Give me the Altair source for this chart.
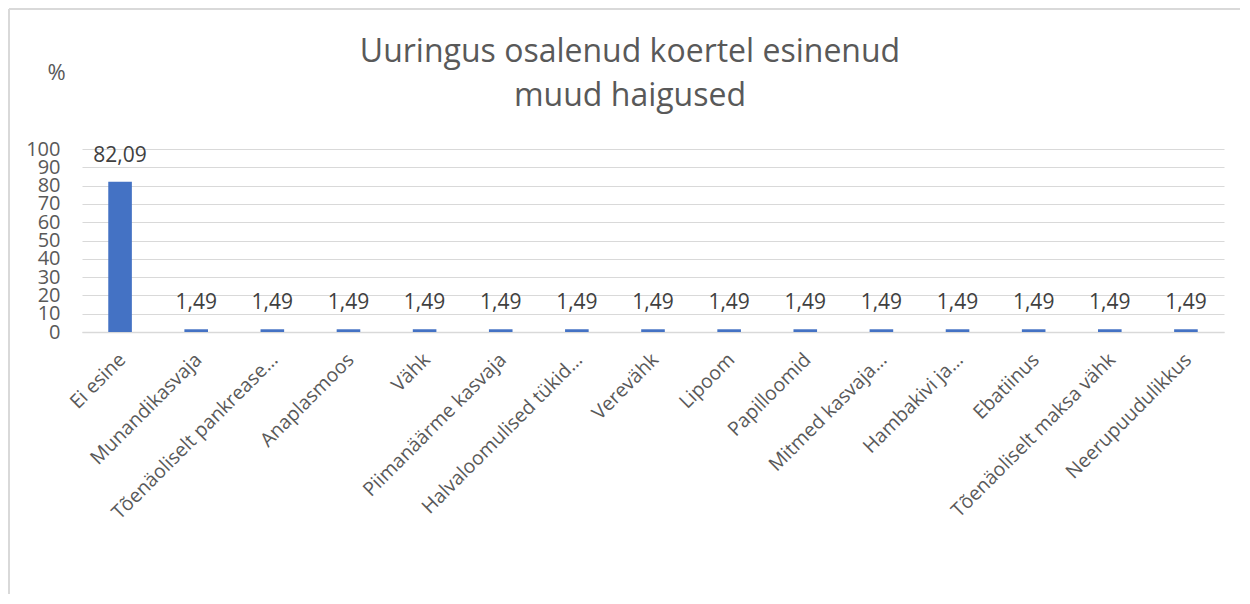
import altair as alt
import pandas as pd

categories = [
    "Ei esine", "Munandikasvaja", "Tõenäoliselt pankrease…", "Anaplasmoos",
    "Vähk", "Piimanäärme kasvaja", "Halvaloomulised tükid…", "Verevähk",
    "Lipoom", "Papilloomid", "Mitmed kasvaja…", "Hambakivi ja…",
    "Ebatiinus", "Tõenäoliselt maksa vähk", "Neerupuudulikkus",
]
values = [82.09, 1.49, 1.49, 1.49, 1.49, 1.49, 1.49, 1.49,
          1.49, 1.49, 1.49, 1.49, 1.49, 1.49, 1.49]
y_ticks = [0, 10, 20, 30, 40, 50, 60, 70, 80, 90, 100]
title_lines = ["Uuringus osalenud koertel esinenud", "muud haigused"]

df = pd.DataFrame({"category": categories, "value": values})

TEXT = "#595959"
GRID = "#d9d9d9"

x = alt.X(
    "category:N", sort=None,
    scale=alt.Scale(paddingInner=0.69, paddingOuter=0.345),
    axis=alt.Axis(title=None, labelAngle=-45, labelFontSize=19.5, labelColor=TEXT,
                  ticks=False, domainColor=GRID, domainWidth=1.5,
                  labelPadding=18, labelOffset=-4, labelLimit=0),
)
y = alt.Y(
    "value:Q",
    scale=alt.Scale(domain=[0, 100], nice=False),
    axis=alt.Axis(values=y_ticks, title="%", titleAngle=0, titleX=-26, titleY=-77,
                  titleAlign="center", titleBaseline="middle", titleFontSize=22,
                  titleFontWeight="normal", titleColor=TEXT,
                  labelFontSize=20, labelColor=TEXT, labelPadding=22,
                  domain=False, ticks=False, gridColor=GRID,
                  labelOverlap=False, labelFlush=False),
)

base = alt.Chart(df)
bars = base.mark_bar(color="#4472C4").encode(x=x, y=y)
labels = base.transform_calculate(
    label="replace(format(datum.value, '.2f'), '.', ',')"
).mark_text(baseline="bottom", dy=-16, fontSize=21, color="#404040").encode(
    x=x, y=y, text="label:N"
)

frame_data = alt.Data(values=[{}])
top_line = alt.Chart(frame_data).mark_rule(color=GRID, strokeWidth=2).encode(
    x=alt.value(-73), x2=alt.value(1200), y=alt.value(-140)
)
left_line = alt.Chart(frame_data).mark_rule(color=GRID, strokeWidth=2).encode(
    x=alt.value(-73), y=alt.value(-140), y2=alt.value(500)
)
title = alt.Chart(frame_data).mark_text(
    text=title_lines, fontSize=32, color=TEXT, align="center",
    baseline="alphabetic", lineHeight=44,
).encode(x=alt.value(548), y=alt.value(-87))

chart = alt.layer(bars, labels, top_line, left_line, title).properties(
    width=1142, height=183,
    autosize=alt.AutoSizeParams(type="none"),
    padding={"left": 74, "top": 141, "right": 16, "bottom": 262},
).configure(font="Open Sans").configure_view(stroke=None)

chart.save("out.html", embed_options={"renderer": "svg", "actions": False})
